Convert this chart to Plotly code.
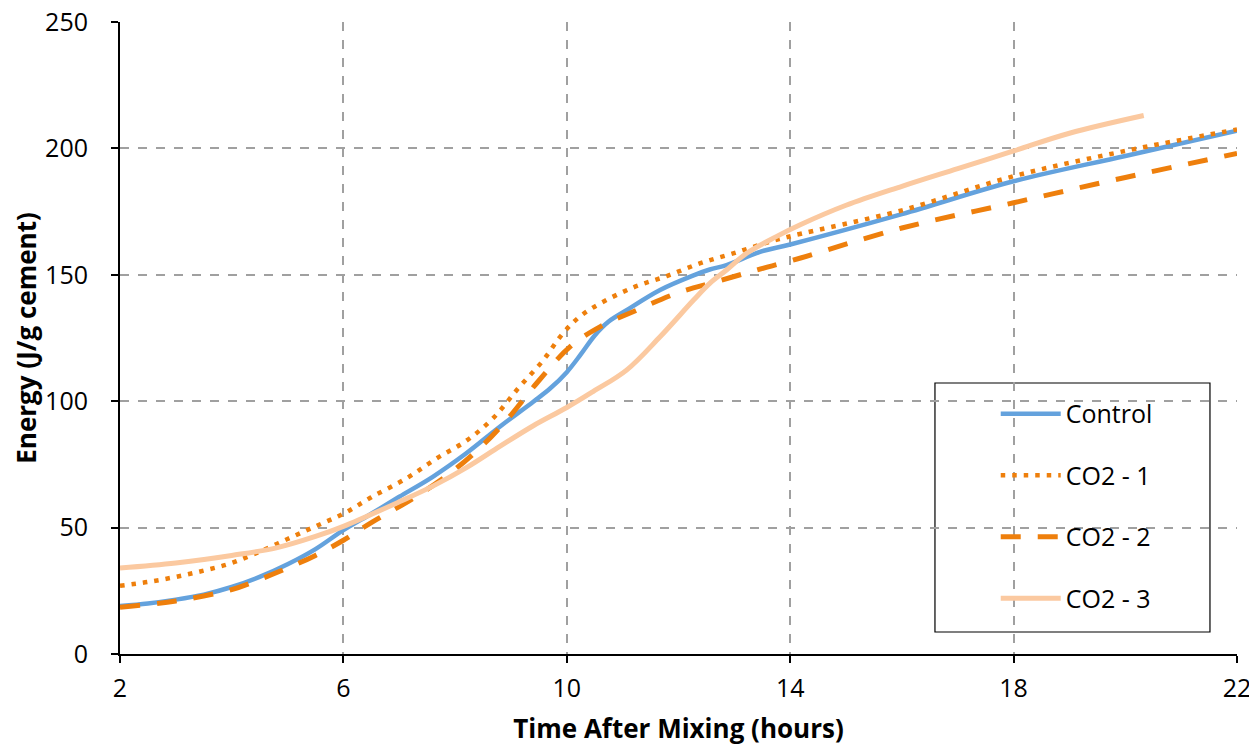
import plotly.graph_objects as go

# ---- data (hours, J/g cement) ----
control_x = [2, 2.5, 3, 3.5, 4, 4.5, 5, 5.5, 6, 6.5, 7, 7.6, 8.2, 8.8, 9.4, 9.7, 10, 10.25, 10.5, 10.75, 11.07, 11.67, 12.27, 12.56, 12.86, 13.46, 14, 16, 18, 20, 22]
control_y = [19, 20, 21.5, 23.5, 26.5, 30.5, 35.5, 41.5, 49, 55.5, 62.2, 70.1, 79.4, 89.9, 99.8, 105, 111.5, 118.5, 126, 131.5, 136, 144, 149.8, 152.1, 153.8, 159.1, 162, 174, 187, 197, 207]

co2_1_x = [2, 2.5, 3, 3.5, 4, 4.5, 5, 5.5, 6, 6.5, 7.13, 7.67, 8.21, 8.69, 9.13, 9.57, 9.94, 10.24, 10.6, 11.19, 11.79, 12.38, 12.98, 13.64, 14.05, 16, 18, 20, 22]
co2_1_y = [27, 28.5, 30.5, 33, 36, 40.5, 45.5, 50.5, 55.5, 62, 69.5, 77.4, 84.5, 93.5, 105.1, 116, 127.1, 133.6, 138.7, 145, 149.5, 154.5, 158.5, 163.1, 165.5, 175.5, 189, 199, 207.5]

co2_2_x = [2, 3, 4, 4.5, 5, 5.5, 6, 6.5, 7.25, 7.91, 8.5, 8.98, 9.46, 10.06, 10.6, 11.25, 11.97, 12.68, 13.4, 14.05, 16, 18, 20, 22]
co2_2_y = [18.5, 21, 25.5, 29.5, 34, 39, 45, 52, 61.6, 71.5, 82.7, 94, 107.1, 121.6, 129.5, 136, 142.7, 147.3, 151.9, 155.8, 168.5, 178.5, 188.5, 198]

co2_3_x = [2, 3, 4, 4.8, 5.5, 6, 7.01, 7.61, 8.21, 8.8, 9.4, 10, 10.47, 11.07, 11.67, 12.27, 12.56, 12.86, 13.22, 13.75, 14.18, 15, 16, 17, 18, 19, 20.33]
co2_3_y = [34, 36, 39, 42, 46.5, 50.5, 60.3, 66.5, 73.8, 82.1, 90.3, 97.5, 103.8, 112.3, 125.5, 140, 146.6, 151.9, 158.5, 165.1, 169.8, 177.5, 185, 192, 199, 206, 213]

series_names = ["Control", "CO2 - 1", "CO2 - 2", "CO2 - 3"]

x_ticks = [2, 6, 10, 14, 18, 22]
y_ticks = [0, 50, 100, 150, 200, 250]

BLUE = "#64A2DD"
ORANGE = "#EE7F0C"
PEACH = "#FBC9A0"
FONT = "Open Sans"

fig = go.Figure()
fig.add_trace(go.Scatter(x=control_x, y=control_y, name=series_names[0], mode="lines",
                         line=dict(color=BLUE, width=4.5, shape="spline", smoothing=1),
                         legendgroup="a"))
fig.add_trace(go.Scatter(x=co2_1_x, y=co2_1_y, name=series_names[1], mode="lines",
                         line=dict(color=ORANGE, width=4.5, shape="spline", smoothing=1, dash="4.5px,7px"),
                         legendgroup="b"))
fig.add_trace(go.Scatter(x=co2_2_x, y=co2_2_y, name=series_names[2], mode="lines",
                         line=dict(color=ORANGE, width=5, shape="spline", smoothing=1, dash="20px,17px"),
                         legendgroup="c"))
fig.add_trace(go.Scatter(x=co2_3_x, y=co2_3_y, name=series_names[3], mode="lines",
                         line=dict(color=PEACH, width=5, shape="spline", smoothing=1),
                         legendgroup="d"))

axis_common = dict(
    showline=True, linecolor="black", linewidth=2,
    ticks="outside", ticklen=7, tickwidth=2, tickcolor="black",
    showgrid=True, gridcolor="#A0A0A0", gridwidth=1.5, griddash="dash",
    zeroline=False, mirror=False, automargin=False, ticklabeloverflow="allow",
    tickfont=dict(family=FONT, size=25, color="black"),
)

fig.update_xaxes(range=[2, 22], tickvals=x_ticks, ticktext=[str(v) for v in x_ticks],
                 title=dict(text="Time After Mixing (hours)", standoff=17,
                            font=dict(family=FONT, size=26, color="black", weight="bold")),
                 ticklabelstandoff=4, **axis_common)
fig.update_yaxes(range=[0, 250], tickvals=y_ticks, ticktext=[str(v) for v in y_ticks],
                 title=dict(text="Energy (J/g cement)", standoff=10,
                            font=dict(family=FONT, size=26, color="black", weight="bold")),
                 ticklabelstandoff=18, **axis_common)

fig.update_layout(
    width=1257, height=747,
    margin=dict(l=112, r=28, t=14, b=101),
    plot_bgcolor="white", paper_bgcolor="white",
    font=dict(family=FONT, color="black"),
    legend=dict(x=0.784, y=0.4163, xanchor="left", yanchor="top",
                bgcolor="rgba(0,0,0,0)", borderwidth=0,
                font=dict(family=FONT, size=25, color="black"),
                tracegroupgap=26, itemwidth=60),
    shapes=[dict(type="rect", xref="paper", yref="paper",
                 x0=0.7296, x1=0.9758, y0=0.0348, y1=0.4288,
                 line=dict(color="black", width=1.2), fillcolor="white", layer="below")],
)

fig.write_html("out.html")
